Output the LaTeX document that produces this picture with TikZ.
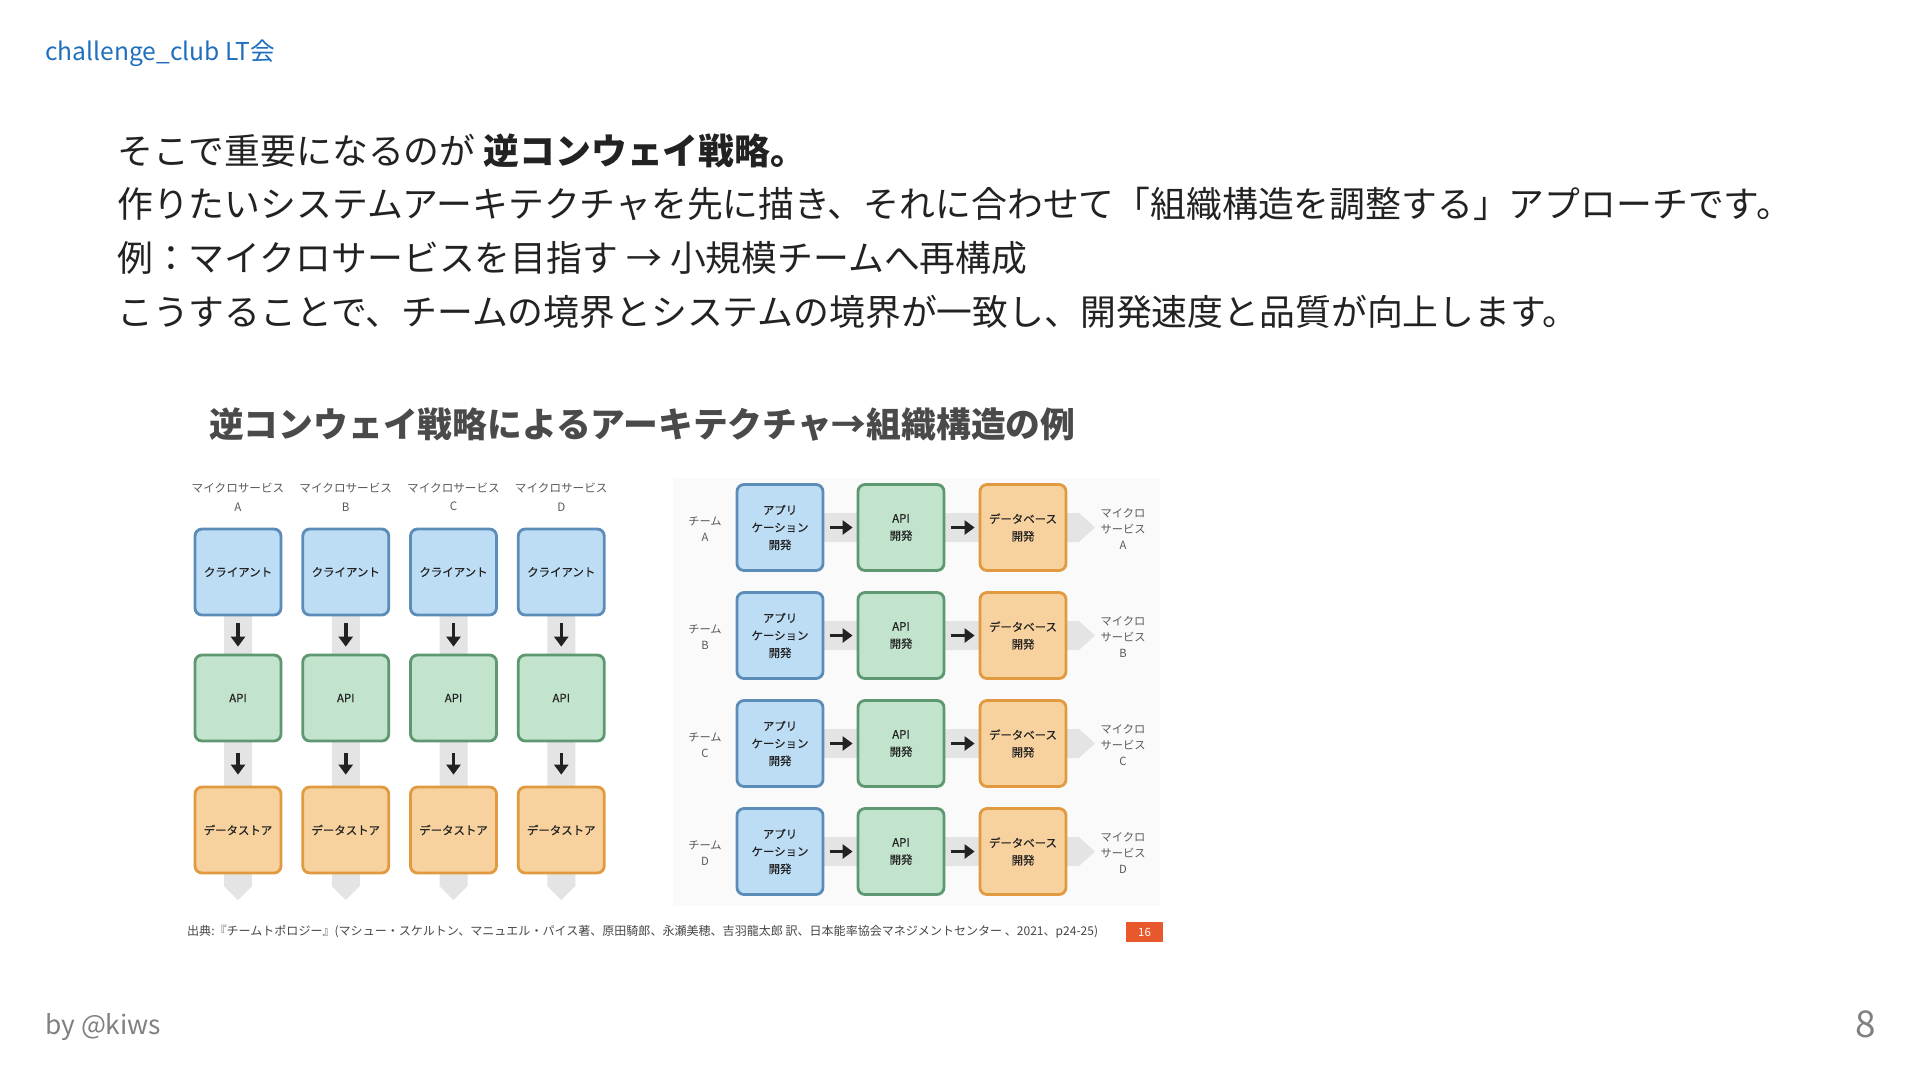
\documentclass[tikz,border=0pt]{standalone}
\usepackage{fontspec}
\setmainfont{Noto Sans CJK JP}
\newfontfamily\boxfont{Noto Sans CJK JP}[FakeBold=0.6]
\usepackage{tikz}
\usetikzlibrary{arrows.meta, positioning, backgrounds}
\definecolor{hdrblue}{RGB}{31,111,190}
\definecolor{mydark}{RGB}{34,34,34}
\definecolor{ttlgray}{RGB}{74,74,74}
\definecolor{capgray}{RGB}{70,70,70}
\definecolor{footgray}{RGB}{128,128,128}
\definecolor{bluefill}{RGB}{189,221,245}
\definecolor{blueline}{RGB}{92,140,184}
\definecolor{greenfill}{RGB}{194,227,204}
\definecolor{greenline}{RGB}{94,152,112}
\definecolor{orangefill}{RGB}{247,210,158}
\definecolor{orangeline}{RGB}{226,154,64}
\definecolor{bandgray}{RGB}{228,228,228}
\definecolor{panelgray}{RGB}{250,250,250}
\definecolor{tagred}{RGB}{232,88,44}
\tikzset{
  box/.style={rectangle, minimum width=1.72cm, minimum height=1.72cm,
    rounded corners=0.14cm, line width=1.6pt, align=center,
    font=\boxfont\fontsize{6.5}{9.9}\selectfont, text=mydark},
  bluebox/.style={box, draw=blueline, fill=bluefill},
  greenbox/.style={box, draw=greenline, fill=greenfill},
  orangebox/.style={box, draw=orangeline, fill=orangefill},
  arrow/.style={-{Triangle[length=0.2cm,width=0.28cm]}, line width=2pt, color=mydark},
  band/.style={fill=bandgray, draw=none},
  lbl/.style={align=center, font=\fontsize{6.4}{9.3}\selectfont, text=black!65},
  bodytext/.style={anchor=west, font=\fontsize{20.4}{24}\selectfont, text=mydark}
}

\begin{document}
\begin{tikzpicture}[x=0.02cm, y=-0.02cm]
  \useasboundingbox (0,0) rectangle (1920,1080);

  % Header / footer
  \node[anchor=west, font=\fontsize{14}{17}\selectfont, text=hdrblue] (hdr) at (39,53) {challenge\_club LT会};
  \node[anchor=west, font=\fontsize{15}{18}\selectfont, text=footgray] (by) at (39,1027) {by @kiws};
  \node[font=\fontsize{21}{24}\selectfont, text=footgray] (page) at (1866,1024) {8};

  % Body text
  \node[bodytext] (l1) at (111,151) {そこで重要になるのが \textbf{逆コンウェイ戦略。}};
  \node[bodytext] (l2) at (111,204) {作りたいシステムアーキテクチャを先に描き、それに合わせて「組織構造を調整する」アプローチです。};
  \node[bodytext] (l3) at (111,258) {例：マイクロサービスを目指す → 小規模チームへ再構成};
  \node[bodytext] (l4) at (111,312) {こうすることで、チームの境界とシステムの境界が一致し、開発速度と品質が向上します。};

  % Figure title
  \node[anchor=west, font=\bfseries\fontsize{19.8}{24}\selectfont, text=ttlgray] (ttl) at (203,425) {逆コンウェイ戦略によるアーキテクチャ→組織構造の例};

  % Left: architecture per microservice (columns)
  \foreach \i/\l in {0/A,1/B,2/C,3/D}{
    \node[lbl, font=\fontsize{6.6}{10.5}\selectfont] (msl\l) at ({238+107.75*\i},497) {マイクロサービス\\\l};
    \node[bluebox] (cli\l) at ({238+107.75*\i},572) {クライアント};
    \node[greenbox] (api\l) at ({238+107.75*\i},698) {API};
    \node[orangebox] (ds\l) at ({238+107.75*\i},830) {データストア};
    \draw[arrow, shorten <=0.14cm, shorten >=0.14cm] (cli\l) -- (api\l);
    \draw[arrow, shorten <=0.22cm, shorten >=0.22cm] (api\l) -- (ds\l);
  }

  % Right: teams per microservice (rows)
  \foreach \r/\l in {0/A,1/B,2/C,3/D}{
    \node[lbl] (team\l) at (705,{529+108*\r}) {チーム\\\l};
    \node[bluebox] (app\l) at (780,{527.5+108*\r}) {アプリ\\ケーション\\開発};
    \node[greenbox] (dev\l) at (901,{527.5+108*\r}) {API\\開発};
    \node[orangebox] (db\l) at (1023,{527.5+108*\r}) {データベース\\開発};
    \node[lbl] (ms\l) at (1123,{529+108*\r}) {マイクロ\\サービス\\\l};
    \draw[arrow, shorten <=0.12cm, shorten >=0.08cm] (app\l) -- (dev\l);
    \draw[arrow, shorten <=0.12cm, shorten >=0.08cm] (dev\l) -- (db\l);
  }

  % Grey flow bands behind the boxes
  \begin{scope}[on background layer]
    \fill[panelgray] (673,478) rectangle (1160,906);
    \foreach \l in {A,B,C,D}{
      \fill[band] (cli\l.center) ++(-14,0) -- ++(28,0) -- ++(0,314) -- ++(-14,14) -- ++(-14,-14) -- cycle;
      \fill[band] (app\l.center) ++(0,-14.5) -- ++(299,0) -- ++(16,14.5) -- ++(-16,14.5) -- ++(-299,0) -- cycle;
    }
  \end{scope}

  % Source line
  \node[anchor=west, font=\fontsize{6.85}{8}\selectfont, text=capgray] (src) at (181,932) {出典:『チームトポロジー』(マシュー・スケルトン、マニュエル・パイス著、原田騎郎、永瀬美穂、吉羽龍太郎 訳、日本能率協会マネジメントセンター 、2021、p24-25)};
  \node[fill=tagred, text=white, minimum width=0.74cm, minimum height=0.4cm, inner sep=0pt, font=\fontsize{6.5}{8}\selectfont] (tag) at (1144.5,932) {16};
\end{tikzpicture}
\end{document}
